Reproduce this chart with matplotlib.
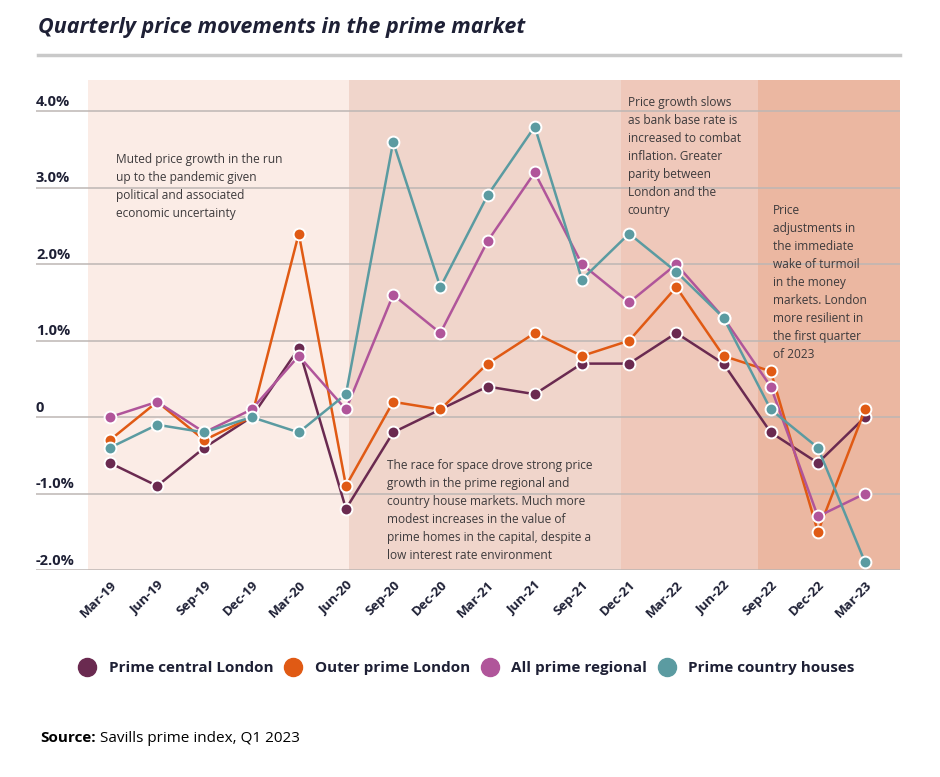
import matplotlib
matplotlib.use("Agg")
import matplotlib.pyplot as plt
from matplotlib.lines import Line2D

plt.rcParams['font.family'] = ['Open Sans', 'DejaVu Sans']

# data (quarterly % change)
quarters = ['Mar-19', 'Jun-19', 'Sep-19', 'Dec-19', 'Mar-20', 'Jun-20', 'Sep-20', 'Dec-20',
            'Mar-21', 'Jun-21', 'Sep-21', 'Dec-21', 'Mar-22', 'Jun-22', 'Sep-22', 'Dec-22', 'Mar-23']
prime_central = [-0.6, -0.9, -0.4, 0.0, 0.9, -1.2, -0.2, 0.1, 0.4, 0.3, 0.7, 0.7, 1.1, 0.7, -0.2, -0.6, 0.0]
outer_prime = [-0.3, 0.2, -0.3, 0.0, 2.4, -0.9, 0.2, 0.1, 0.7, 1.1, 0.8, 1.0, 1.7, 0.8, 0.6, -1.5, 0.1]
prime_regional = [0.0, 0.2, -0.2, 0.1, 0.8, 0.1, 1.6, 1.1, 2.3, 3.2, 2.0, 1.5, 2.0, 1.3, 0.4, -1.3, -1.0]
country_houses = [-0.4, -0.1, -0.2, 0.0, -0.2, 0.3, 3.6, 1.7, 2.9, 3.8, 1.8, 2.4, 1.9, 1.3, 0.1, -0.4, -1.9]

series_names = ['Prime central London', 'Outer prime London', 'All prime regional', 'Prime country houses']
series_colors = ['#6a2a50', '#e05a14', '#b0559a', '#5b9ba1']

y_ticks = [4.0, 3.0, 2.0, 1.0, 0.0, -1.0, -2.0]
y_labels = ['4.0%', '3.0%', '2.0%', '1.0%', '0', '-1.0%', '-2.0%']

# background periods (in quarter index units)
bands = [(-0.47, 5.07, '#fbece6'), (5.07, 10.83, '#f0d5cb'),
         (10.83, 13.73, '#efc8ba'), (13.73, 16.74, '#ebb7a1')]

notes = [
    (0.12, 3.46, "Muted price growth in the run\nup to the pandemic given\npolitical and associated\neconomic uncertainty"),
    (5.87, -0.55, "The race for space drove strong price\ngrowth in the prime regional and\ncountry house markets. Much more\nmodest increases in the value of\nprime homes in the capital, despite a\nlow interest rate environment"),
    (10.97, 4.20, "Price growth slows\nas bank base rate is\nincreased to combat\ninflation. Greater\nparity between\nLondon and the\ncountry"),
    (14.04, 2.79, "Price\nadjustments in\nthe immediate\nwake of turmoil\nin the money\nmarkets. London\nmore resilient in\nthe first quarter\nof 2023"),
]

navy = '#1e2035'
note_col = '#3d3a3c'

fig = plt.figure(figsize=(9.4, 7.77), dpi=100)
ax = fig.add_axes([36 / 940, 1 - 570 / 777, 864 / 940, 490 / 777])
ax.set_xlim(-1.568, 16.74)
ax.set_ylim(-2.0, 4.41)

for x0, x1, c in bands:
    ax.axvspan(x0, x1, color=c, lw=0, zorder=0)

for v in y_ticks:
    ax.axhline(v, color='#bdb6b4', lw=1.1, zorder=1)

for v, lab in zip(y_ticks, y_labels):
    ax.text(-1.568, v + 0.03, lab, fontsize=10.5, fontweight='bold', color=navy,
            ha='left', va='bottom', zorder=3)

x = list(range(len(quarters)))
for vals, name, col in zip([prime_central, outer_prime, prime_regional, country_houses],
                           series_names, series_colors):
    ax.plot(x, vals, color=col, lw=1.8, marker='o', markersize=8.5,
            markerfacecolor=col, markeredgecolor='white', markeredgewidth=1.4,
            zorder=4, clip_on=False)

for nx_, ny_, txt in notes:
    ax.text(nx_, ny_, txt, fontsize=8.6, color=note_col, ha='left', va='top',
            linespacing=1.5, zorder=5)

ax.set_xticks(x)
ax.set_xticklabels(quarters, rotation=45, ha='right', rotation_mode='anchor',
                   fontsize=9.5, fontweight='bold', color=navy)
ax.tick_params(axis='x', length=0, pad=6)
ax.set_yticks([])
for s in ax.spines.values():
    s.set_visible(False)

# title and rule
fig.text(38 / 940, 1 - 27 / 777, 'Quarterly price movements in the prime market',
         fontsize=15.5, fontweight='bold', fontstyle='italic', color=navy, va='center')
fig.add_artist(Line2D([38 / 940, 900 / 940], [1 - 55 / 777, 1 - 55 / 777],
                      color='#c9c9c9', lw=2.5))

handles = [Line2D([], [], ls='none', marker='o', markersize=13, color=c) for c in series_colors]
fig.legend(handles, series_names, loc='center', bbox_to_anchor=(0.497, 1 - 668 / 777),
           ncol=4, frameon=False, handletextpad=0.9, columnspacing=0.8,
           handlelength=1.0, prop={'weight': 'bold', 'size': 11}, labelcolor=navy)

src = fig.text(40 / 940, 1 - 738 / 777, 'Source:', fontsize=11, fontweight='bold',
               color='black', va='center')
fig.canvas.draw()
bb = src.get_window_extent()
fig.text((bb.x1 + 4) / 940, 1 - 738 / 777, 'Savills prime index, Q1 2023', fontsize=11,
         color='black', va='center')

fig.savefig('out.png', dpi=100)
